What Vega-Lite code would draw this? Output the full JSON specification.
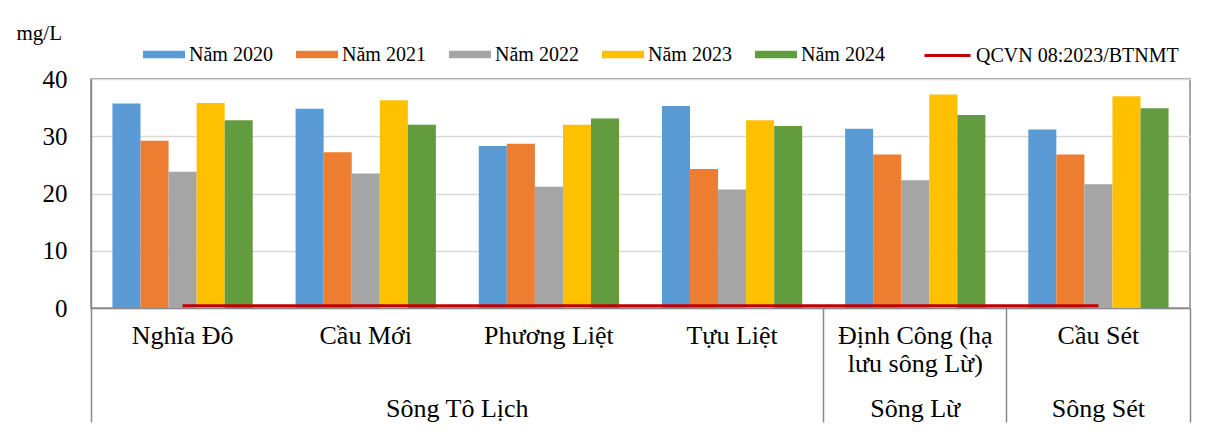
{
  "$schema": "https://vega.github.io/schema/vega-lite/v6.json",
  "autosize": {"type": "none"},
  "padding": {"left": 91, "top": 79, "right": 16, "bottom": 130},
  "width": 1099,
  "height": 229,
  "background": "white",
  "datasets": {
    "bars": [
      {"station": "Nghĩa Đô", "year": "Năm 2020", "value": 35.7},
      {"station": "Nghĩa Đô", "year": "Năm 2021", "value": 29.2},
      {"station": "Nghĩa Đô", "year": "Năm 2022", "value": 23.8},
      {"station": "Nghĩa Đô", "year": "Năm 2023", "value": 35.8},
      {"station": "Nghĩa Đô", "year": "Năm 2024", "value": 32.8},
      {"station": "Cầu Mới", "year": "Năm 2020", "value": 34.8},
      {"station": "Cầu Mới", "year": "Năm 2021", "value": 27.2},
      {"station": "Cầu Mới", "year": "Năm 2022", "value": 23.5},
      {"station": "Cầu Mới", "year": "Năm 2023", "value": 36.3},
      {"station": "Cầu Mới", "year": "Năm 2024", "value": 32.0},
      {"station": "Phương Liệt", "year": "Năm 2020", "value": 28.3},
      {"station": "Phương Liệt", "year": "Năm 2021", "value": 28.7},
      {"station": "Phương Liệt", "year": "Năm 2022", "value": 21.2},
      {"station": "Phương Liệt", "year": "Năm 2023", "value": 32.0},
      {"station": "Phương Liệt", "year": "Năm 2024", "value": 33.1},
      {"station": "Tựu Liệt", "year": "Năm 2020", "value": 35.3},
      {"station": "Tựu Liệt", "year": "Năm 2021", "value": 24.3},
      {"station": "Tựu Liệt", "year": "Năm 2022", "value": 20.7},
      {"station": "Tựu Liệt", "year": "Năm 2023", "value": 32.8},
      {"station": "Tựu Liệt", "year": "Năm 2024", "value": 31.8},
      {"station": "Định Công (hạ lưu sông Lừ)", "year": "Năm 2020", "value": 31.3},
      {"station": "Định Công (hạ lưu sông Lừ)", "year": "Năm 2021", "value": 26.8},
      {"station": "Định Công (hạ lưu sông Lừ)", "year": "Năm 2022", "value": 22.3},
      {"station": "Định Công (hạ lưu sông Lừ)", "year": "Năm 2023", "value": 37.3},
      {"station": "Định Công (hạ lưu sông Lừ)", "year": "Năm 2024", "value": 33.7},
      {"station": "Cầu Sét", "year": "Năm 2020", "value": 31.2},
      {"station": "Cầu Sét", "year": "Năm 2021", "value": 26.8},
      {"station": "Cầu Sét", "year": "Năm 2022", "value": 21.6},
      {"station": "Cầu Sét", "year": "Năm 2023", "value": 37.0},
      {"station": "Cầu Sét", "year": "Năm 2024", "value": 34.9}
    ],
    "limit": [
      {"station": "Nghĩa Đô", "series": "QCVN 08:2023/BTNMT", "value": 0.4},
      {"station": "Cầu Mới", "series": "QCVN 08:2023/BTNMT", "value": 0.4},
      {"station": "Phương Liệt", "series": "QCVN 08:2023/BTNMT", "value": 0.4},
      {"station": "Tựu Liệt", "series": "QCVN 08:2023/BTNMT", "value": 0.4},
      {"station": "Định Công (hạ lưu sông Lừ)", "series": "QCVN 08:2023/BTNMT", "value": 0.4},
      {"station": "Cầu Sét", "series": "QCVN 08:2023/BTNMT", "value": 0.4}
    ]
  },
  "encoding": {
    "y": {
      "field": "value",
      "type": "quantitative",
      "scale": {"domain": [0, 40], "nice": false, "zero": true},
      "axis": {
        "title": "mg/L",
        "values": [0, 10, 20, 30, 40],
        "ticks": false,
        "grid": true,
        "gridColor": "#D9D9D9",
        "gridWidth": 1.5,
        "domain": true,
        "domainColor": "#898989",
        "domainWidth": 1.5,
        "labelFont": "Liberation Serif",
        "labelFontSize": 25,
        "labelColor": "#000000",
        "labelPadding": 24,
        "titleFont": "Liberation Serif",
        "titleAngle": 0,
        "titleAlign": "left",
        "titleBaseline": "alphabetic",
        "titleX": -75,
        "titleY": -40,
        "titleFontSize": 21,
        "titleFontWeight": "normal",
        "titleColor": "#000000"
      }
    }
  },
  "layer": [
    {
      "data": {"name": "bars"},
      "mark": {"type": "bar"},
      "encoding": {
        "x": {
          "field": "station",
          "type": "nominal",
          "sort": ["Nghĩa Đô", "Cầu Mới", "Phương Liệt", "Tựu Liệt", "Định Công (hạ lưu sông Lừ)", "Cầu Sét"],
          "scale": {"paddingInner": 0, "paddingOuter": 0},
          "axis": {
            "orient": "bottom",
            "title": null,
            "bandPosition": 1,
            "labelAngle": 0,
            "labelAlign": "center",
            "labelBaseline": "top",
            "labelFont": "Liberation Serif",
            "labelFontSize": 26,
            "labelLineHeight": 28,
            "labelColor": "#000000",
            "labelLimit": 400,
            "labelOverlap": false,
            "labelBound": false,
            "labelFlush": false,
            "labelPadding": -100,
            "labelExpr": "datum.value === 'Định Công (hạ lưu sông Lừ)' ? ['Định Công (hạ', 'lưu sông Lừ)'] : datum.value",
            "ticks": true,
            "tickSize": 114,
            "tickWidth": 1.5,
            "tickColor": "#898989",
            "tickOpacity": {"condition": {"test": "datum.value === 'Cầu Sét'", "value": 1}, "value": 0},
            "domain": true,
            "domainColor": "#898989",
            "domainWidth": 1.5,
            "grid": false
          }
        },
        "xOffset": {
          "field": "year",
          "type": "nominal",
          "scale": {"paddingInner": 0, "paddingOuter": 0.764}
        },
        "color": {
          "field": "year",
          "type": "nominal",
          "scale": {
            "domain": ["Năm 2020", "Năm 2021", "Năm 2022", "Năm 2023", "Năm 2024"],
            "range": ["#5B9BD5", "#ED7D31", "#A5A5A5", "#FFC000", "#639B3F"]
          },
          "legend": {
            "title": null,
            "orient": "none",
            "direction": "horizontal",
            "legendX": 52,
            "legendY": -45.5,
            "padding": 0,
            "symbolType": "M-1,-0.183H1V0.183H-1Z",
            "symbolSize": 1764,
            "symbolStrokeWidth": 0,
            "symbolOpacity": 1,
            "labelFont": "Liberation Serif",
            "labelFontSize": 20,
            "labelColor": "#000000",
            "labelOffset": 4,
            "columnPadding": 23,
            "labelLimit": 300
          }
        }
      }
    },
    {
      "data": {"name": "limit"},
      "mark": {"type": "line", "strokeWidth": 3},
      "encoding": {
        "x": {
          "field": "station",
          "type": "nominal",
          "sort": ["Nghĩa Đô", "Cầu Mới", "Phương Liệt", "Tựu Liệt", "Định Công (hạ lưu sông Lừ)", "Cầu Sét"],
          "axis": {
            "orient": "bottom",
            "title": null,
            "bandPosition": 0,
            "labelAngle": 0,
            "labelAlign": "center",
            "labelBaseline": "top",
            "labelFont": "Liberation Serif",
            "labelFontSize": 26,
            "labelColor": "#000000",
            "labelLimit": 400,
            "labelOverlap": false,
            "labelBound": false,
            "labelFlush": false,
            "labelPadding": -27,
            "labelOffset": {"condition": {"test": "datum.value === 'Phương Liệt'", "value": -91.58}, "value": 0},
            "labelExpr": "datum.value === 'Phương Liệt' ? 'Sông Tô Lịch' : datum.value === 'Định Công (hạ lưu sông Lừ)' ? 'Sông Lừ' : datum.value === 'Cầu Sét' ? 'Sông Sét' : ''",
            "ticks": true,
            "tickSize": 114,
            "tickWidth": 1.5,
            "tickColor": "#898989",
            "tickOpacity": {"condition": {"test": "datum.value === 'Nghĩa Đô' || datum.value === 'Định Công (hạ lưu sông Lừ)' || datum.value === 'Cầu Sét'", "value": 1}, "value": 0},
            "domain": false,
            "grid": false
          }
        },
        "stroke": {
          "field": "series",
          "type": "nominal",
          "scale": {"range": ["#C00000"]},
          "legend": {
            "title": null,
            "orient": "none",
            "legendX": 832,
            "legendY": -48,
            "padding": 0,
            "symbolType": "stroke",
            "symbolSize": 2116,
            "symbolStrokeWidth": 3,
            "labelFont": "Liberation Serif",
            "labelFontSize": 20,
            "labelColor": "#000000",
            "labelOffset": 4,
            "labelLimit": 300
          }
        }
      }
    }
  ],
  "resolve": {"axis": {"x": "independent"}, "scale": {"x": "shared"}},
  "config": {
    "font": "Liberation Serif",
    "view": {"stroke": "#898989", "strokeWidth": 1.5}
  }
}
